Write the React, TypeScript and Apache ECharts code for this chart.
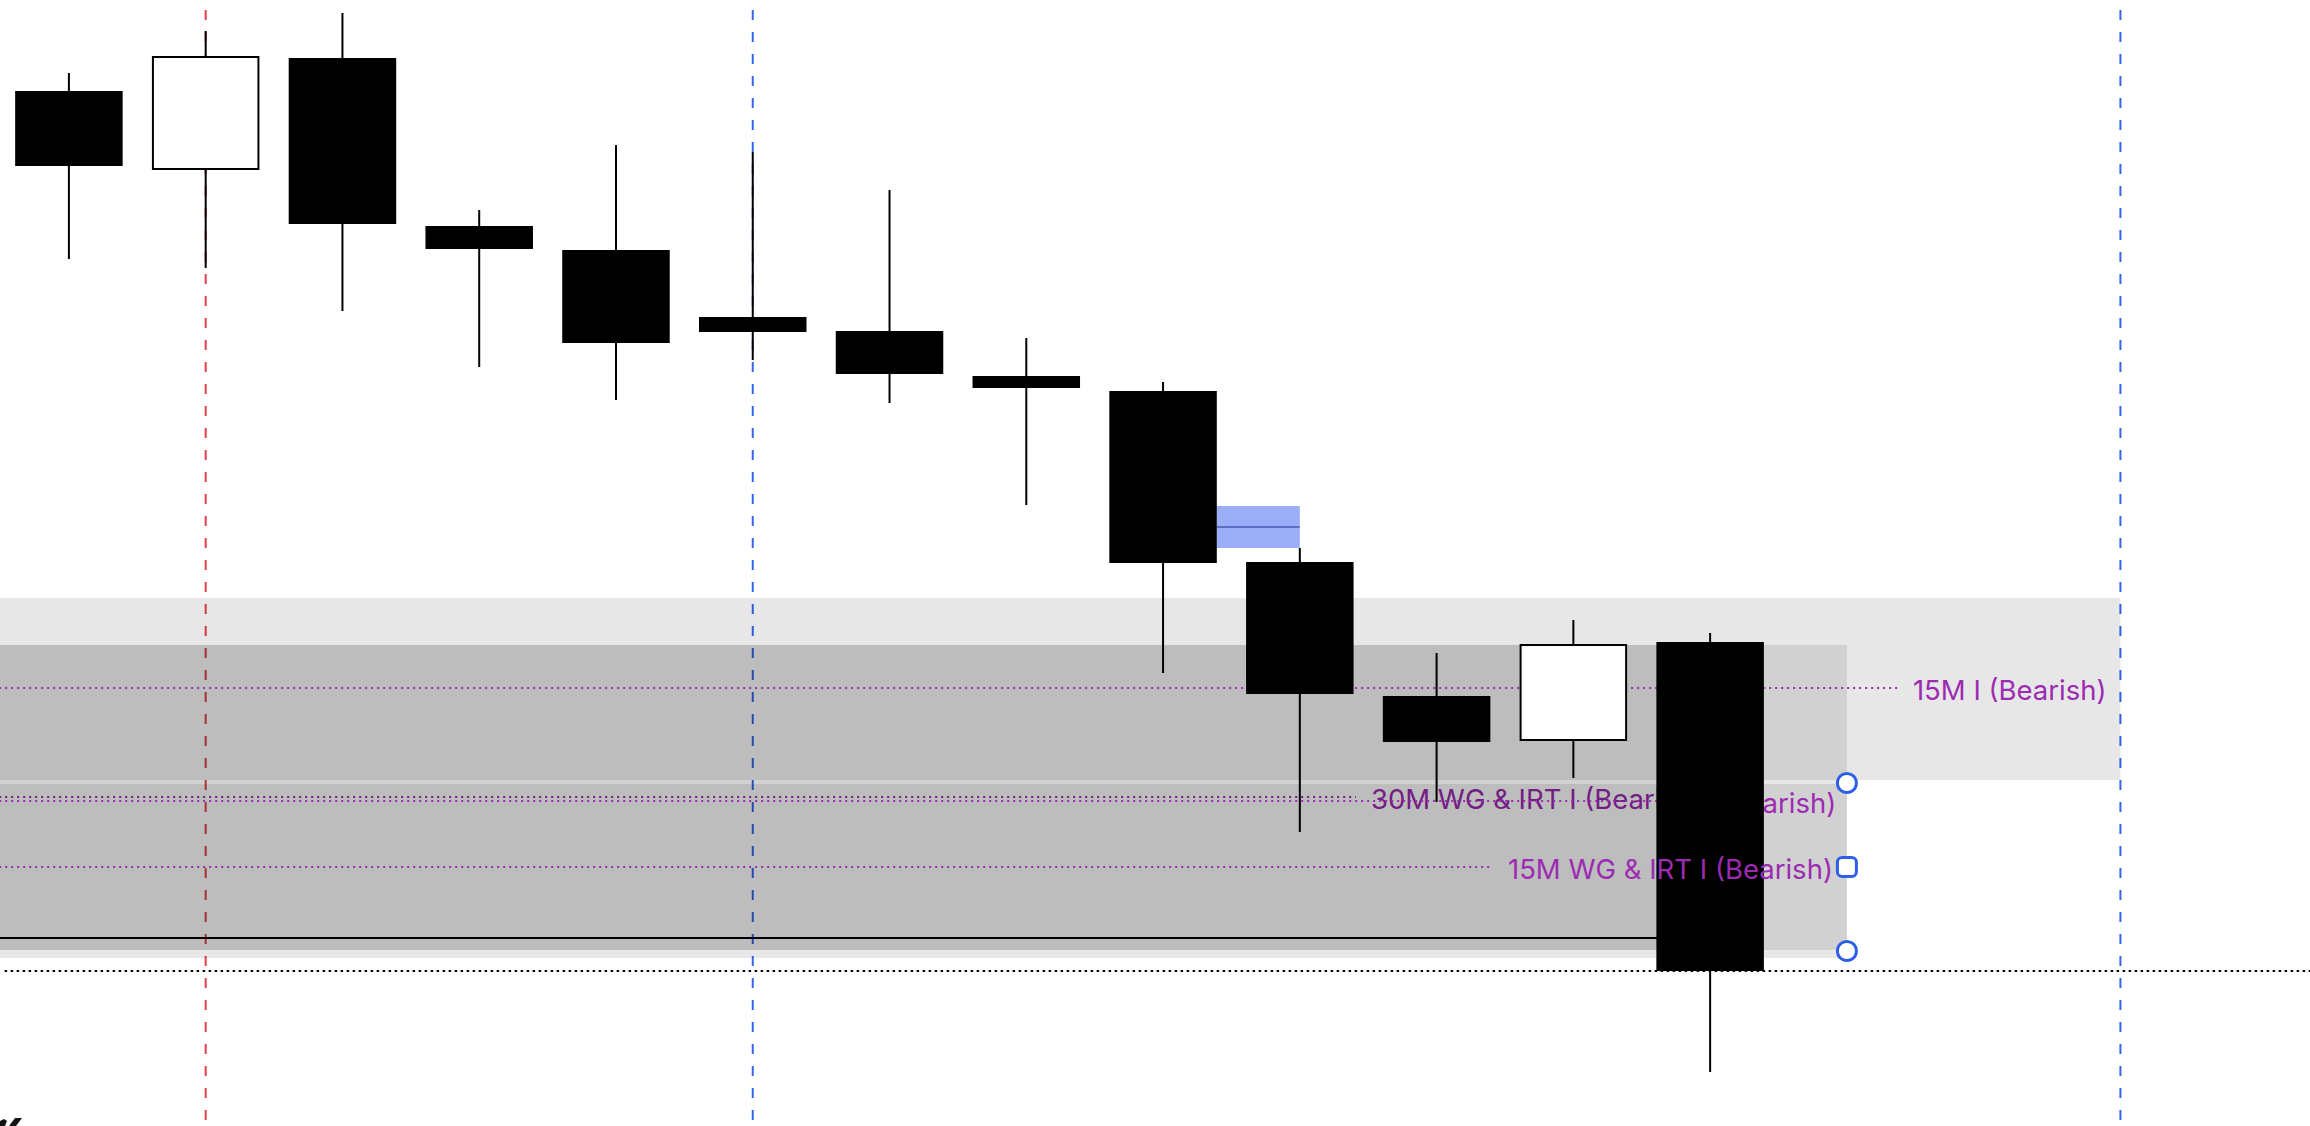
import React, { useEffect, useRef } from "react";
import * as echarts from "echarts";

// ---- Candles (bar index 0..12) ----
const candleIndex = [0, 1, 2, 3, 4, 5, 6, 7, 8, 9, 10, 11, 12];
const opens = [5951.75, 5947.8, 5953.4, 5945.0, 5943.8, 5940.45, 5939.75, 5937.5, 5936.75, 5928.2, 5921.5, 5919.25, 5924.2];
const closes = [5948.0, 5953.5, 5945.1, 5943.85, 5939.15, 5939.7, 5937.6, 5936.9, 5928.15, 5921.6, 5919.2, 5924.1, 5907.75];
const lows = [5943.35, 5942.9, 5940.75, 5937.95, 5936.3, 5938.3, 5936.15, 5931.05, 5922.65, 5914.7, 5916.2, 5917.4, 5902.7];
const highs = [5952.65, 5954.75, 5955.65, 5945.8, 5949.05, 5948.7, 5946.8, 5939.4, 5937.2, 5928.9, 5923.65, 5925.3, 5924.65];

// ---- Vertical session markers ----
const vLineX = [1, 5, 15];
const vLineColors = ["#e2424b", "#3366ee", "#3366ee"];
const vLineTop = 5955.8;

// ---- Zones [xStart, xEnd, top, bottom] ----
const zoneXStart = [-0.51, -0.51, -0.51, -0.51];
const zoneXEnd = [15, 13, 13, 12];
const zoneTop = [5926.4, 5917.1, 5924.05, 5924.05];
const zoneBottom = [5917.3, 5908.4, 5908.8, 5908.8];

// ---- Level lines with labels ----
const levelNames = ["15M I (Bearish)", "30M WG & IRT I (Bearish)", "(Bearish)", "15M WG & IRT I (Bearish)"];
const levelPrices = [5921.9, 5916.45, 5916.25, 5912.95];
const levelEnds = [13.373, 9.41, 11.95, 10.412];
// layer: 0 = under zones, 1 = over zones / under candles, 2 = label over candles
const levelLayer = [2, 0, 1, 2];

// ---- Black reference lines ----
const refPrices = [5909.4, closes[closes.length - 1]];
const refStarts = [-0.51, -0.47];
const refEnds = [12, 16.39];
const refDotted = [false, true];

// ---- Imbalance box ----
const fvgX = [8.393, 9.0];
const fvgPrices = [5931.0, 5928.9];
const fvgMid = 5929.95;

// ---- Selection handles ----
const handleX = [13, 13, 13];
const handlePrices = [5917.15, 5912.95, 5908.75];
const handleShapes = ["circle", "roundRect", "circle"];

const X_MIN = -0.5038;
const X_MAX = 16.386;
const Y_MIN = 5900;
const Y_MAX = 5956.3;
const BODY_W = 0.786;
const PURPLE = "#9c2bb2";
const FONT = "Inter, Roboto, 'Noto Sans', sans-serif";

export default function App() {
  const ref = useRef<HTMLDivElement>(null);

  useEffect(() => {
    const chart = echarts.init(ref.current as HTMLDivElement, null, { renderer: "svg" });

    const candleData = candleIndex.map((i, k) => [i, opens[k], closes[k], lows[k], highs[k]]);
    const vData = vLineX.map((x) => [x, vLineTop, Y_MIN]);
    const zoneData = zoneXStart.map((x, k) => [x, zoneXEnd[k], zoneTop[k], zoneBottom[k]]);
    const levelRows = levelPrices.map((p, k) => [-0.51, levelEnds[k], p, k]);
    const levelsBehind = levelRows.filter((r) => levelLayer[r[3]] === 0);
    const levelsFront = levelRows.filter((r) => levelLayer[r[3]] > 0);
    const refData = refPrices.map((p, k) => [refStarts[k], refEnds[k], p, k]);
    const fvgData = [[fvgX[0], fvgX[1], fvgPrices[0], fvgPrices[1], fvgMid]];

    const makeLevelRender = (withLine: boolean, textFilter: (k: number) => boolean) => (params: any, api: any) => {
      const x0 = api.value(0);
      const x1 = api.value(1);
      const p = api.value(2);
      const k = api.value(3);
      const a = api.coord([x0, p]);
      const b = api.coord([x1, p]);
      const children: any[] = [];
      if (withLine) {
        children.push({
          type: "line",
          shape: { x1: a[0], y1: a[1], x2: b[0], y2: b[1] },
          style: { stroke: PURPLE, lineWidth: 2, lineDash: [2, 4] },
        });
      }
      if (textFilter(k)) {
        children.push({
          type: "text",
          x: b[0] + 15,
          y: b[1] + 2,
          style: {
            text: levelNames[k],
            fill: PURPLE,
            fontSize: 27.5,
            fontFamily: FONT,
            align: "left",
            verticalAlign: "middle",
          },
        });
      }
      return { type: "group", children };
    };

    const option: any = {
      animation: false,
      backgroundColor: "#ffffff",
      grid: { left: 0, right: 0, top: 0, bottom: 0, containLabel: false },
      xAxis: { type: "value", min: X_MIN, max: X_MAX, show: false },
      yAxis: { type: "value", min: Y_MIN, max: Y_MAX, show: false, scale: true },
      graphic: [
        {
          type: "polygon",
          shape: { points: [[9, 1126], [15, 1118], [22, 1118], [16, 1126]] },
          style: { fill: "#131313" },
        },
        {
          type: "polygon",
          shape: { points: [[0, 1121], [4, 1119], [7, 1121], [5, 1126], [0, 1126]] },
          style: { fill: "#131313" },
        },
      ],
      series: [
        {
          name: "sessions",
          type: "custom",
          z: 0,
          silent: true,
          data: vData,
          encode: { x: 0, y: [1, 2] },
          renderItem: (params: any, api: any) => {
            const x = api.value(0);
            const a = api.coord([x, api.value(1)]);
            const b = api.coord([x, api.value(2)]);
            return {
              type: "line",
              shape: { x1: a[0], y1: a[1], x2: b[0], y2: b[1] },
              style: { stroke: vLineColors[params.dataIndex], lineWidth: 2, lineDash: [10, 12] },
            };
          },
        },
        {
          name: "levelsBehind",
          type: "custom",
          z: 0,
          silent: true,
          data: levelsBehind,
          encode: { x: [0, 1], y: 2 },
          renderItem: makeLevelRender(true, () => true),
        },
        {
          name: "zones",
          type: "custom",
          z: 1,
          silent: true,
          data: zoneData,
          encode: { x: [0, 1], y: [2, 3] },
          renderItem: (params: any, api: any) => {
            const a = api.coord([api.value(0), api.value(2)]);
            const b = api.coord([api.value(1), api.value(3)]);
            return {
              type: "rect",
              shape: { x: a[0], y: a[1], width: b[0] - a[0], height: b[1] - a[1] },
              style: { fill: "rgba(0,0,0,0.095)" },
            };
          },
        },
        {
          name: "levels",
          type: "custom",
          z: 2,
          silent: true,
          data: levelsFront,
          encode: { x: [0, 1], y: 2 },
          renderItem: makeLevelRender(true, (k) => levelLayer[k] === 1),
        },
        {
          name: "refLines",
          type: "custom",
          z: 2,
          silent: true,
          data: refData,
          encode: { x: [0, 1], y: 2 },
          renderItem: (params: any, api: any) => {
            const k = api.value(3);
            const a = api.coord([api.value(0), api.value(2)]);
            const b = api.coord([api.value(1), api.value(2)]);
            return {
              type: "line",
              shape: { x1: a[0], y1: a[1], x2: b[0], y2: b[1] },
              style: refDotted[k]
                ? { stroke: "#000", lineWidth: 2, lineDash: [2.5, 3.5] }
                : { stroke: "#000", lineWidth: 2 },
            };
          },
        },
        {
          name: "imbalance",
          type: "custom",
          z: 3,
          silent: true,
          data: fvgData,
          encode: { x: [0, 1], y: [2, 3] },
          renderItem: (params: any, api: any) => {
            const a = api.coord([api.value(0), api.value(2)]);
            const b = api.coord([api.value(1), api.value(3)]);
            const m = api.coord([api.value(0), api.value(4)]);
            return {
              type: "group",
              children: [
                {
                  type: "rect",
                  shape: { x: a[0], y: a[1], width: b[0] - a[0], height: b[1] - a[1] },
                  style: { fill: "#99aef6" },
                },
                {
                  type: "line",
                  shape: { x1: a[0], y1: m[1], x2: b[0], y2: m[1] },
                  style: { stroke: "#5a70c2", lineWidth: 2 },
                },
              ],
            };
          },
        },
        {
          name: "candles",
          type: "custom",
          z: 4,
          silent: true,
          data: candleData,
          encode: { x: 0, y: [1, 2, 3, 4] },
          renderItem: (params: any, api: any) => {
            const i = api.value(0);
            const o = api.value(1);
            const c = api.value(2);
            const l = api.value(3);
            const h = api.value(4);
            const pO = api.coord([i, o]);
            const pC = api.coord([i, c]);
            const pH = api.coord([i, h]);
            const pL = api.coord([i, l]);
            const w = api.size([BODY_W, 0])[0];
            const x = pO[0];
            const top = Math.min(pO[1], pC[1]);
            const bot = Math.max(pO[1], pC[1]);
            const bull = c > o;
            const body = bull
              ? {
                  type: "rect",
                  shape: { x: x - w / 2 + 1, y: top + 1, width: w - 2, height: Math.max(bot - top - 2, 1) },
                  style: { fill: "#ffffff", stroke: "#000000", lineWidth: 2 },
                }
              : {
                  type: "rect",
                  shape: { x: x - w / 2, y: top, width: w, height: Math.max(bot - top, 1) },
                  style: { fill: "#000000" },
                };
            return {
              type: "group",
              children: [
                {
                  type: "line",
                  shape: { x1: x, y1: pH[1], x2: x, y2: pL[1] },
                  style: { stroke: "#000000", lineWidth: 2 },
                },
                body,
              ],
            };
          },
        },
        {
          name: "levelLabelsTop",
          type: "custom",
          z: 5,
          silent: true,
          data: levelsFront,
          encode: { x: [0, 1], y: 2 },
          renderItem: makeLevelRender(false, (k) => levelLayer[k] === 2),
        },
        {
          name: "handles",
          type: "scatter",
          z: 6,
          silent: true,
          data: handleX.map((x, k) => ({
            value: [x, handlePrices[k]],
            symbol: handleShapes[k],
          })),
          symbolSize: 19,
          itemStyle: { color: "#ffffff", borderColor: "#2f5fe8", borderWidth: 3, opacity: 1 },
        },
      ],
    };

    chart.setOption(option);
    return () => chart.dispose();
  }, []);

  return (
    <div
      ref={ref}
      style={{ position: "fixed", left: 0, top: 0, width: 2310, height: 1126, background: "#ffffff" }}
    />
  );
}
